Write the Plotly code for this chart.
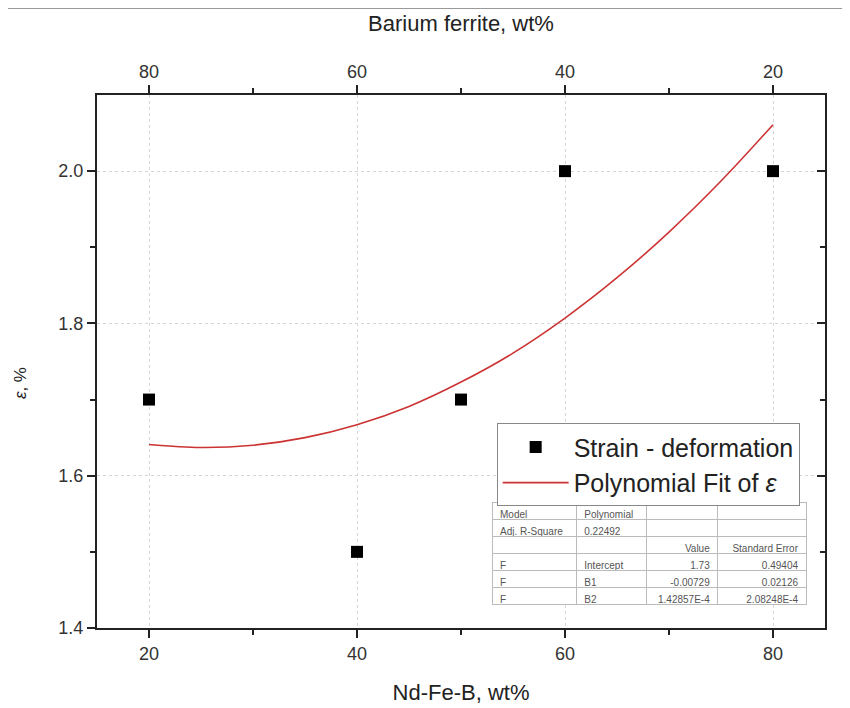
import plotly.graph_objects as go

# Data points (Nd-Fe-B wt%, strain %)
ndfeb = [20, 40, 50, 60, 80]
strain = [1.7, 1.5, 1.7, 2.0, 2.0]

# Polynomial fit curve
fit_x = [20, 25, 30, 35, 40, 45, 50, 55, 60, 65, 70, 75, 80]
fit_y = [1.641, 1.637, 1.640, 1.650, 1.667, 1.691, 1.723, 1.761, 1.807, 1.860, 1.920, 1.987, 2.061]

# Top axis: Barium ferrite wt%
top_ticks = [80, 60, 40, 20]

# Fit table
tbl_col0 = ["Model", "Adj. R-Square", "", "F", "F", "F"]
tbl_col1 = ["Polynomial", "0.22492", "", "Intercept", "B1", "B2"]
tbl_col2 = ["", "", "Value", "1.73", "-0.00729", "1.42857E-4"]
tbl_col3 = ["", "", "Standard Error", "0.49404", "0.02126", "2.08248E-4"]

FONT = "Arial, Liberation Sans, sans-serif"
AX = "#222222"
TICKC = "#333333"

fig = go.Figure()

fig.add_trace(go.Scatter(
    x=ndfeb, y=strain, mode="markers", name="Strain - deformation",
    marker=dict(symbol="square", size=12, color="black"),
))
fig.add_trace(go.Scatter(
    x=fit_x, y=fit_y, mode="lines", name="Polynomial Fit of <i>ε</i>",
    line=dict(color="#cc3333", width=1.6, shape="spline"),
))
# dummy trace to activate the top / right axes
fig.add_trace(go.Scatter(
    x=[top_ticks[0]], y=[strain[0]], xaxis="x2", yaxis="y2", mode="markers",
    marker=dict(opacity=0), showlegend=False, hoverinfo="skip",
))

fig.add_trace(go.Table(
    domain=dict(x=[0.5426, 0.974], y=[0.030, 0.2355]),
    columnwidth=[84, 70, 71, 88],
    header=dict(
        values=[tbl_col0[0], tbl_col1[0], tbl_col2[0], tbl_col3[0]],
        align=["left", "left", "right", "right"],
        line=dict(color="#bbbbbb", width=1),
        fill=dict(color="white"),
        font=dict(family=FONT, size=10, color="#555555"),
        height=17,
    ),
    cells=dict(
        values=[tbl_col0[1:], tbl_col1[1:], tbl_col2[1:], tbl_col3[1:]],
        align=["left", "left", "right", "right"],
        line=dict(color="#bbbbbb", width=1),
        fill=dict(color="white"),
        font=dict(family=FONT, size=10, color="#555555"),
        height=17,
    ),
))

axis_common = dict(
    showline=True, linecolor=AX, linewidth=2,
    tickfont=dict(family=FONT, size=18, color=TICKC),
    tickcolor=AX, tickwidth=1.5, ticklen=8, zeroline=False,
)

fig.update_layout(
    width=850, height=708,
    margin=dict(l=89, r=33, t=87, b=88),
    paper_bgcolor="white", plot_bgcolor="white",
    font=dict(family=FONT, color="#222222"),
    xaxis=dict(
        **axis_common, range=[15, 85], tickvals=[20, 40, 60, 80], ticks="outside",
        minor=dict(tickvals=[30, 50, 70], ticks="outside", ticklen=5, tickcolor=AX, tickwidth=1.5),
        showgrid=True, gridcolor="#d6d6d6", griddash="dot", gridwidth=1,
        title=dict(text="Nd-Fe-B, wt%", font=dict(family=FONT, size=22, color="#222222"), standoff=22),
    ),
    xaxis2=dict(
        **axis_common, overlaying="x", side="top", range=[85, 15],
        tickvals=top_ticks, ticks="outside", showgrid=False,
        minor=dict(tickvals=[70, 50, 30], ticks="outside", ticklen=5, tickcolor=AX, tickwidth=1.5),
        title=dict(text="Barium ferrite, wt%", font=dict(family=FONT, size=22, color="#222222"), standoff=24),
    ),
    yaxis=dict(
        **axis_common, range=[1.4, 2.1], tickvals=[1.4, 1.6, 1.8, 2.0], tickformat=".1f",
        ticks="outside",
        minor=dict(tickvals=[1.5, 1.7, 1.9], ticks="outside", ticklen=5, tickcolor=AX, tickwidth=1.5),
        showgrid=True, gridcolor="#d6d6d6", griddash="dot", gridwidth=1,
    ),
    yaxis2=dict(
        **{k: v for k, v in axis_common.items() if k != "tickfont"},
        overlaying="y", side="right", range=[1.4, 2.1], tickvals=[1.4, 1.6, 1.8, 2.0],
        ticks="inside", showticklabels=False, showgrid=False,
        minor=dict(tickvals=[1.5, 1.7, 1.9], ticks="inside", ticklen=5, tickcolor=AX, tickwidth=1.5),
    ),
    legend=dict(
        x=0.549, y=0.384, xanchor="left", yanchor="top",
        bgcolor="white", bordercolor="#888888", borderwidth=1,
        font=dict(family=FONT, size=25, color="#222222"),
        itemwidth=66, tracegroupgap=0,
    ),
    showlegend=True,
    annotations=[dict(
        text="<i>ε</i>, %", xref="paper", yref="paper", x=-0.104, y=0.46,
        xanchor="center", yanchor="middle", textangle=-90, showarrow=False,
        font=dict(family=FONT, size=17, color="#222222"),
    )],
    shapes=[dict(type="line", xref="paper", yref="paper",
                 x0=-89/728, x1=761/728, y0=1.163, y1=1.163,
                 line=dict(color="#777777", width=1.5))],
)

fig.write_html("out.html")
